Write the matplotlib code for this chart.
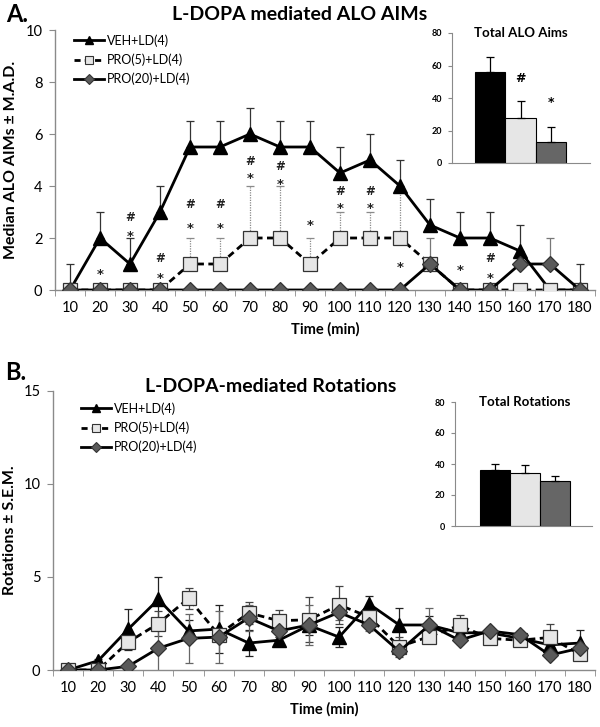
import matplotlib
matplotlib.use('Agg')
import matplotlib.pyplot as plt
from matplotlib.lines import Line2D

plt.rcParams['font.family'] = ['Lato', 'DejaVu Sans']

# ---------------- data ----------------
time = [10, 20, 30, 40, 50, 60, 70, 80, 90, 100, 110, 120, 130, 140, 150, 160, 170, 180]
groups = ['VEH+LD(4)', 'PRO(5)+LD(4)', 'PRO(20)+LD(4)']

# Panel A: median ALO AIMs (+ M.A.D., upper only)
aims_veh = [0, 2, 1, 3, 5.5, 5.5, 6, 5.5, 5.5, 4.5, 5, 4, 2.5, 2, 2, 1.5, 0, 0]
aims_veh_err = [1, 1, 1, 1, 1, 1, 1, 1, 1, 1, 1, 1, 1, 1, 1, 1, 0, 1]
aims_pro5 = [0, 0, 0, 0, 1, 1, 2, 2, 1, 2, 2, 2, 1, 0, 0, 0, 0, 0]
aims_pro5_err = [0, 0, 0, 0, 1, 1, 2, 2, 1, 1, 1, 2, 0, 0, 0, 0, 0, 0]
aims_pro20 = [0, 0, 0, 0, 0, 0, 0, 0, 0, 0, 0, 0, 1, 0, 0, 1, 1, 0]
aims_pro20_err = [0, 0, 0, 0, 0, 0, 0, 0, 0, 0, 0, 0, 1, 0, 0, 0, 1, 0]

star_time = [20, 30, 40, 50, 60, 70, 80, 90, 100, 110, 120, 140, 150]
star_level = [0.7, 2.15, 0.55, 2.45, 2.45, 4.4, 4.15, 2.6, 3.25, 3.25, 0.95, 0.85, 0.55]
hash_time = [30, 40, 50, 60, 70, 80, 100, 110, 150]
hash_level = [2.8, 1.2, 3.3, 3.3, 4.95, 4.75, 3.8, 3.8, 1.2]

total_aims = [56, 28, 13]
total_aims_err = [9, 10, 9]
total_aims_marks = ['', '#', '*']
total_aims_mark_level = [0, 52, 37]

# Panel B: rotations (+/- S.E.M.)
rot_veh = [0, 0.5, 2.2, 3.8, 2.1, 2.2, 1.45, 1.6, 2.4, 1.77, 3.55, 2.42, 2.42, 2.0, 2.0, 1.7, 1.35, 1.45]
rot_veh_err = [0, 0.1, 1.1, 1.2, 0.6, 1.3, 0.7, 0.2, 0.5, 0.55, 0.45, 0.9, 0.5, 0.3, 0.2, 0.2, 0.3, 0.7]
rot_pro5 = [0, 0, 1.5, 2.5, 3.85, 1.9, 3.07, 2.65, 2.7, 3.5, 2.85, 1.25, 1.8, 2.4, 1.7, 1.6, 1.75, 0.85]
rot_pro5_err = [0, 0, 0.3, 0.65, 0.55, 0.3, 0.6, 0.6, 1.2, 1.0, 0.4, 0.55, 0.3, 0.55, 0.3, 0.2, 0.75, 0.3]
rot_pro20 = [0, 0, 0.2, 1.17, 1.7, 1.77, 2.8, 2.1, 2.42, 3.1, 2.42, 1.0, 2.42, 1.6, 2.1, 1.9, 0.8, 1.17]
rot_pro20_err = [0, 0, 0.1, 1.2, 1.3, 1.4, 0.7, 0.3, 1.05, 0.4, 0.3, 0.2, 0.9, 0.2, 0.2, 0.2, 0.2, 0.3]

total_rot = [36, 34, 29]
total_rot_err = [4, 5.5, 3.5]

# ---------------- style ----------------
SPINE = '#8a8a8a'
SQ_FACE = '#e6e6e6'
DIA_FACE = '#5a5a5a'
BAR_COLORS = ['#000000', '#e6e6e6', '#666666']
MARK_FONT = ['DejaVu Sans']

fig = plt.figure(figsize=(6.0, 7.27), dpi=100)
W, H = 600.0, 727.0


def fa(l, t, r, b):
    return [l / W, 1 - b / H, (r - l) / W, (b - t) / H]


def style_main(ax, ymax, ystep):
    ax.set_xlim(5, 185)
    ax.set_ylim(0, ymax)
    for s in ['top', 'right']:
        ax.spines[s].set_visible(False)
    for s in ['left', 'bottom']:
        ax.spines[s].set_color(SPINE)
        ax.spines[s].set_linewidth(1.0)
    ax.set_xticks(time)
    ax.set_xticklabels([str(t) for t in time], fontsize=10.5)
    ax.set_xticks([t - 5 for t in time] + [185], minor=True)
    ax.tick_params(axis='x', which='major', length=0, pad=8)
    ax.tick_params(axis='x', which='minor', length=4, color=SPINE, direction='out')
    ax.set_yticks(list(range(0, ymax + 1, ystep)))
    ax.tick_params(axis='y', length=4, color=SPINE, labelsize=10.5, pad=5)
    ax.set_xlabel('Time (min)', fontsize=10.5, fontweight='bold', labelpad=5)


def legend(ax, x0, y0):
    h = [
        Line2D([], [], color='black', lw=2, marker='^', ms=6, mfc='black', mec='black'),
        Line2D([], [], color='black', lw=2, ls=(0, (2.2, 1.5)), marker='s', ms=6, mfc=SQ_FACE, mec='#333333', mew=0.8),
        Line2D([], [], color='black', lw=2, marker='D', ms=5, mfc=DIA_FACE, mec='#333333', mew=0.8),
    ]
    ax.legend(h, groups, loc='upper left', bbox_to_anchor=(x0 / W, 1 - y0 / H),
              bbox_transform=fig.transFigure, frameon=False, fontsize=9,
              handlelength=2.4, handletextpad=0.25, labelspacing=0.55, borderaxespad=0, borderpad=0)


def draw_series(ax, y, lo, hi, kind, errstyle, errcolor):
    if kind == 'veh':
        kw = dict(color='black', lw=2, marker='^', ms=10, mfc='black', mec='black', zorder=3)
    elif kind == 'pro5':
        kw = dict(color='black', lw=2, ls=(0, (2.5, 1.6)), marker='s', ms=10, mfc=SQ_FACE, mec='#333333', mew=0.9, zorder=4)
    else:
        kw = dict(color='black', lw=2, marker='D', ms=8.5, mfc=DIA_FACE, mec='#333333', mew=0.9, zorder=5)
    eb = ax.errorbar(time, y, yerr=[lo, hi], fmt='none', ecolor=errcolor, elinewidth=0.9,
                     capsize=2.6, capthick=0.9, zorder=2)
    if errstyle == 'dotted':
        eb[2][0].set_linestyle((0, (1, 1)))
    ax.plot(time, y, **kw)


def inset(rect, vals, errs, title, xl, xr):
    ax = fig.add_axes(rect)
    pos = [0, 1, 2]
    ax.bar(pos, vals, width=1.0, color=BAR_COLORS, edgecolor='black', linewidth=0.8, zorder=2)
    ax.errorbar(pos, vals, yerr=[[0, 0, 0], errs], fmt='none', ecolor='black', elinewidth=0.9,
                capsize=2.6, capthick=0.9, zorder=3)
    ax.set_xlim(xl, xr)
    ax.set_ylim(0, 80)
    ax.set_yticks([0, 20, 40, 60, 80])
    ax.set_xticks([])
    for s in ['top', 'right']:
        ax.spines[s].set_visible(False)
    for s in ['left', 'bottom']:
        ax.spines[s].set_color(SPINE)
    ax.tick_params(axis='y', length=3, color=SPINE, labelsize=6.5, pad=4)
    for lab in ax.get_yticklabels():
        lab.set_fontweight('bold')
    ax.patch.set_alpha(0)
    ax.text(1.0, 80, title, ha='center', va='center', fontsize=9.5, fontweight='bold')
    return ax


# ---------------- Panel A ----------------
axA = fig.add_axes(fa(55, 30, 595, 290))
style_main(axA, 10, 2)
zeros = [0] * len(time)
draw_series(axA, aims_veh, zeros, aims_veh_err, 'veh', 'solid', '#333333')
draw_series(axA, aims_pro5, zeros, aims_pro5_err, 'pro5', 'dotted', '#8a8a8a')
draw_series(axA, aims_pro20, zeros, aims_pro20_err, 'pro20', 'solid', '#777777')
for t, yv in zip(star_time, star_level):
    axA.text(t, yv - 0.1, '*', ha='center', va='center', fontsize=9.5, fontweight='bold',
             color='#222222', family=MARK_FONT)
for t, yv in zip(hash_time, hash_level):
    axA.text(t, yv, '#', ha='center', va='center', fontsize=8.5, fontweight='bold',
             color='#222222', family=MARK_FONT)
axA.set_ylabel('Median ALO AIMs \u00b1 M.A.D.', fontsize=11.5, fontweight='bold')
axA.yaxis.set_label_coords(-0.068, 0.5)
legend(axA, 74, 34)
fig.text(300 / W, 1 - 14 / H, 'L-DOPA mediated ALO AIMs', ha='center', va='center', fontsize=14, fontweight='bold')
fig.text(6 / W, 1 - 15 / H, 'A.', ha='left', va='center', fontsize=17, fontweight='bold')

iA = inset(fa(452, 33, 590, 163), total_aims, total_aims_err, 'Total ALO Aims', -1.25, 3.28)
for i, (m, lv) in enumerate(zip(total_aims_marks, total_aims_mark_level)):
    if m:
        iA.text(i, lv, m, ha='center', va='center', fontsize=9, fontweight='bold', family=MARK_FONT)

# ---------------- Panel B ----------------
axB = fig.add_axes(fa(53, 391, 595, 670))
style_main(axB, 15, 5)
draw_series(axB, rot_veh, rot_veh_err, rot_veh_err, 'veh', 'solid', '#222222')
draw_series(axB, rot_pro5, rot_pro5_err, rot_pro5_err, 'pro5', 'solid', '#444444')
draw_series(axB, rot_pro20, rot_pro20_err, rot_pro20_err, 'pro20', 'solid', '#666666')
axB.set_ylabel('Rotations \u00b1 S.E.M.', fontsize=11.5, fontweight='bold')
axB.yaxis.set_label_coords(-0.066, 0.5)
legend(axB, 81, 402)
fig.text(271 / W, 1 - 386 / H, 'L-DOPA-mediated Rotations', ha='center', va='center', fontsize=14, fontweight='bold')
fig.text(5 / W, 1 - 372 / H, 'B.', ha='left', va='center', fontsize=17, fontweight='bold')

inset(fa(455, 402, 592, 526), total_rot, total_rot_err, 'Total Rotations', -1.33, 3.23)

fig.savefig('out.png', dpi=100)
